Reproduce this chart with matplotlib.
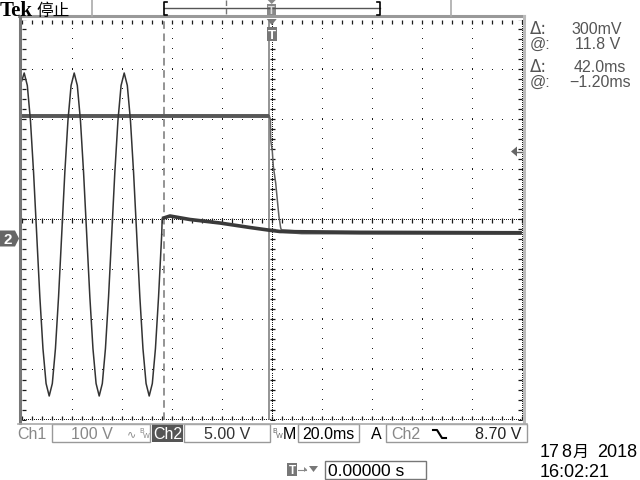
import matplotlib
matplotlib.use("Agg")
import matplotlib.pyplot as plt
from matplotlib.lines import Line2D
from matplotlib.patches import Rectangle, Polygon
import numpy as np

# ---------------- data (time in ms, voltages in V) ----------------
ch1_t = [-100, -99, -97.75, -96.5, -95.25, -94, -92.75, -91.5, -90.25, -89,
         -87.75, -86.5, -85.25, -84, -82.75, -81.5, -80.25, -79, -77.75, -76.5,
         -75.25, -74, -72.75, -71.5, -70.25, -69, -67.75, -66.5, -65.25, -64,
         -62.75, -61.5, -60.25, -59, -57.75, -56.5, -55.25, -54, -52.75, -51.5,
         -50.25, -49, -47.75, -46.5, -45.25, -44]
ch1_v = [307, 323, 298, 228, 124, 0, -124, -228, -298, -323,
         -298, -228, -124, 0, 124, 228, 298, 323, 298, 228,
         124, 0, -124, -228, -298, -323, -298, -228, -124, 0,
         124, 228, 298, 323, 298, 228, 124, 0, -124, -228,
         -298, -323, -298, -228, -124, 0]
ch1_dc_t = [-44, -43.8, -43.2, -40.7, -32.7, -20.7, -8.7, -1.5, 3.3, 35.3, 100]
ch1_dc_v = [0, 32, 33, 37, 30, 23, 14, 9, 6, 4, 3.5]

ch2_t = [-100, -1.0, -0.5, -0.4, 0.25, 0.65, 1.6, 2.25, 2.9, 3.6, 4.1, 12, 100]
ch2_v = [12.3, 12.3, 11.85, 9.85, 8.7, 7.2, 5.55, 3.85, 2.2, 1.05, 0.75, 0.6, 0.55]

cursor_t = [-43.2, -1.2]
ch1_scale, ch2_scale = 100.0, 5.0    # V/div
ch1_pos, ch2_pos = -0.3, -0.38        # div
trig_level = 8.70

W, H = 640, 480
fig = plt.figure(figsize=(6.4, 4.8), dpi=100)
fig.patch.set_facecolor("white")
ax = fig.add_axes([21.7 / W, 1 - 419.5 / H, 500 / W, 400 / H])
ax.set_xlim(-100, 100)
ax.set_ylim(-4, 4)
ax.axis("off")


def fx(x):
    return x / W


def fy(y):
    return 1 - y / H


def fline(xs, ys, **kw):
    fig.add_artist(Line2D([fx(x) for x in xs], [fy(y) for y in ys],
                          transform=fig.transFigure, **kw))


def frect(x0, y0, x1, y1, **kw):
    fig.add_artist(Rectangle((fx(x0), fy(y1)), (x1 - x0) / W, (y1 - y0) / H,
                             transform=fig.transFigure, **kw))


def fpoly(pts, **kw):
    fig.add_artist(Polygon([(fx(x), fy(y)) for x, y in pts], closed=True,
                           transform=fig.transFigure, **kw))


def ftext(x, y, s, **kw):
    fig.text(fx(x), fy(y), s, **kw)


# ---------------- graticule ----------------
dc = "#1a1a1a"
ydots = np.arange(-4, 4.001, 0.2)
xdots = np.arange(-100, 100.001, 4)
for t in range(-80, 81, 20):
    if t == 0:
        continue
    ax.plot(np.full_like(ydots, t), ydots, ",", color=dc)
for yv in range(-3, 4):
    if yv == 0:
        continue
    ax.plot(xdots, np.full_like(xdots, yv), ",", color=dc)
# center lines (dense) with ticks
xd = np.arange(-100, 100.001, 0.8)
yd = np.arange(-4, 4.001, 0.04)
ax.plot(xd, np.zeros_like(xd), ",", color=dc)
ax.plot(np.zeros_like(yd), yd, ",", color=dc)
ax.plot(xdots, np.zeros_like(xdots), "|", ms=3.6, mew=0.9, color=dc)
ax.plot(np.zeros_like(ydots), ydots, "_", ms=3.6, mew=0.9, color=dc)
# borders dense dots + ticks
ax.plot(xd, np.full_like(xd, 4), ",", color=dc)
ax.plot(xd, np.full_like(xd, -4), ",", color=dc)
ax.plot(np.full_like(yd, 100), yd, ",", color=dc)
ax.plot(xdots, np.full_like(xdots, 3.96), "|", ms=2.2, mew=0.9, color=dc)
ax.plot(xdots, np.full_like(xdots, -3.96), "|", ms=2.2, mew=0.9, color=dc)
ax.plot(np.full_like(ydots, 99.2), ydots, "_", ms=2.2, mew=0.9, color=dc)
ax.plot(np.full_like(ydots, -99.2), ydots, "_", ms=2.2, mew=0.9, color=dc)

# frame
fline([19, 524], [16, 16], color="#999999", lw=2.2)
fline([20, 20], [16, 423], color="#777777", lw=2.2)
fline([523.5, 523.5], [16, 423], color="#bbbbbb", lw=2.2)
fline([18, 527], [423.5, 423.5], color="#aaaaaa", lw=1.2)

# ---------------- cursors ----------------
ax.plot([cursor_t[0]] * 2, [-4, 4], color="#777777", lw=1.1, ls=(0, (5, 3)))
ax.plot([cursor_t[1]] * 2, [-4, 4], color="#777777", lw=1.1)

# ---------------- traces ----------------
c1 = np.array(ch1_v) / ch1_scale + ch1_pos
c1dc = np.array(ch1_dc_v) / ch1_scale + ch1_pos
c2 = np.array(ch2_v) / ch2_scale + ch2_pos
ax.plot(ch2_t, c2, color="#606060", lw=1.1)
ax.plot(ch2_t[:2], c2[:2], color="#585858", lw=2.8, solid_capstyle="butt")
ax.plot(ch2_t[-3:], c2[-3:], color="#666666", lw=2.8, solid_capstyle="butt")
ax.plot(ch1_t, c1, color="#333333", lw=1.1)
ax.plot(ch1_dc_t[:2], c1dc[:2], color="#333333", lw=1.1)
ax.plot(ch1_dc_t[1:], c1dc[1:], color="#3a3a3a", lw=2.6, solid_capstyle="butt")

# ---------------- markers ----------------
# Ch2 ground marker
gy = 219.5 - ch2_pos * 50
fpoly([(0, gy - 8), (15, gy - 8), (19, gy), (15, gy + 8), (0, gy + 8)], color="#666666", lw=0)
ftext(8, gy + 6, "2", color="white", fontsize=11, fontweight="bold", ha="center",
      va="baseline", family="Liberation Sans")
# trigger level marker (right)
ty = 219.5 - (trig_level / ch2_scale + ch2_pos) * 50
fpoly([(511, ty), (517, ty - 5), (517, ty + 5)], color="#666666", lw=0)
fline([517, 522], [ty, ty], color="#666666", lw=1)
# trigger position markers
tx = 271.7
fpoly([(tx - 5, 19), (tx + 5, 19), (tx, 25)], color="#777777", lw=0)
frect(tx - 5, 27, tx + 5, 41, color="#777777", lw=0)
ftext(tx, 39, "T", color="white", fontsize=9.5, fontweight="bold", ha="center",
      va="baseline", family="Liberation Sans")
fpoly([(tx - 4, 0), (tx + 4, 0), (tx, 4)], color="#888888", lw=0)
frect(tx - 4.5, 4, tx + 4.5, 15, color="#888888", lw=0)
ftext(tx, 14, "T", color="#dddddd", fontsize=8, fontweight="bold", ha="center",
      va="baseline", family="Liberation Sans")

# ---------------- top bar ----------------
ftext(0, 15.5, "Tek", fontsize=15, fontweight="bold", family="Liberation Serif",
      va="baseline", color="black")
ftext(36, 15.5, "停止", fontsize=12, family=["Noto Sans CJK SC", "DejaVu Sans"],
      va="baseline", color="black")
fline([92, 92], [0, 16], color="#aaaaaa", lw=1.2)
fline([451, 451], [0, 16], color="#aaaaaa", lw=1.2)
fline([164, 380], [8, 8], color="#555555", lw=1)
fline([167, 164, 164, 167], [2, 2, 15, 15], color="black", lw=1.2)
fline([377, 380, 380, 377], [2, 2, 15, 15], color="black", lw=1.2)
fline([226, 226], [0, 16], color="#777777", lw=1, ls=(0, (4, 2)))

# ---------------- cursor readouts ----------------
rc = "#555555"
rf = dict(fontsize=11.5, family=["Liberation Sans", "DejaVu Sans"], color=rc, va="baseline")
sf = dict(fontsize=12, family="DejaVu Sans", color=rc, va="baseline")
ftext(530, 34, "Δ:", **sf)
ftext(530, 49, "@:", **rf)
ftext(530, 72, "Δ:", **sf)
ftext(530, 87, "@:", **rf)
ftext(622, 34, "300mV", ha="right", **rf)
ftext(620, 49, "11.8 V", ha="right", **rf)
ftext(626, 72, "42.0ms", ha="right", **rf)
ftext(631, 87, "\u22121.20ms", ha="right", **rf)

# ---------------- bottom status line ----------------
bf = dict(fontsize=11.5, family=["Liberation Sans", "DejaVu Sans"], va="baseline")
bc = "#999999"
frect(52, 424, 150, 442, fill=False, ec=bc, lw=1)
frect(152, 424, 183, 442, color="#555555", lw=0)
frect(184, 424, 270, 442, fill=False, ec=bc, lw=1)
frect(298, 424, 359, 442, fill=False, ec=bc, lw=1)
frect(386, 424, 527, 442, fill=False, ec=bc, lw=1)
ftext(17, 439, "Ch1", color="#888888", **bf)
ftext(113, 439, "100 V", color="#888888", ha="right", **bf)
ftext(127, 437, "∿", color="#888888", fontsize=8, family="DejaVu Sans", va="baseline")
ftext(139, 433, "B", color="#888888", fontsize=5, family="DejaVu Sans", va="baseline")
ftext(143, 438, "W", color="#888888", fontsize=5, family="DejaVu Sans", va="baseline")
ftext(167.5, 439, "Ch2", color="white", ha="center", **bf)
ftext(250, 439, "5.00 V", color="#333333", ha="right", **bf)
ftext(272, 433, "B", color="#666666", fontsize=5, family="DejaVu Sans", va="baseline")
ftext(276, 438, "W", color="#666666", fontsize=5, family="DejaVu Sans", va="baseline")
ftext(283, 439, "M", color="black", **bf)
ftext(328.5, 439, "20.0ms", color="black", ha="center", **bf)
ftext(371, 439, "A", color="black", **bf)
ftext(391, 439, "Ch2", color="#888888", **bf)
fline([433, 437, 442, 446], [430, 430, 438, 438], color="black", lw=1.5)
ftext(521, 439, "8.70 V", color="#222222", ha="right", **bf)

# time offset box
frect(287, 463, 297, 476, color="#777777", lw=0)
ftext(292, 474.5, "T", color="white", fontsize=8.5, fontweight="bold", ha="center",
      va="baseline", family="Liberation Sans")
fline([298, 306], [469.5, 469.5], color="#888888", lw=0.8)
fpoly([(304, 467), (307, 469.5), (304, 472)], color="#888888", lw=0)
fpoly([(309, 466), (318, 466), (313.5, 472)], color="#777777", lw=0)
frect(325, 461, 426, 479, fill=False, ec="#777777", lw=1)
ftext(328, 476.5, "0.00000 s", color="black", fontsize=12.5,
      family=["Liberation Sans", "DejaVu Sans"], va="baseline")

# date / time
df = dict(fontsize=13, family=["Liberation Sans", "Noto Sans CJK SC"], va="baseline", color="black")
ftext(540, 457, "17", **df)
ftext(561, 457, "8", **df)
ftext(573, 457, "月", fontsize=11.5, family=["Noto Sans CJK SC", "DejaVu Sans"],
      va="baseline", color="black")
ftext(637, 457, "2018", ha="right", **df)
ftext(540, 477, "16:02:21", **df)

fig.savefig("out.png", dpi=100, facecolor="white")
